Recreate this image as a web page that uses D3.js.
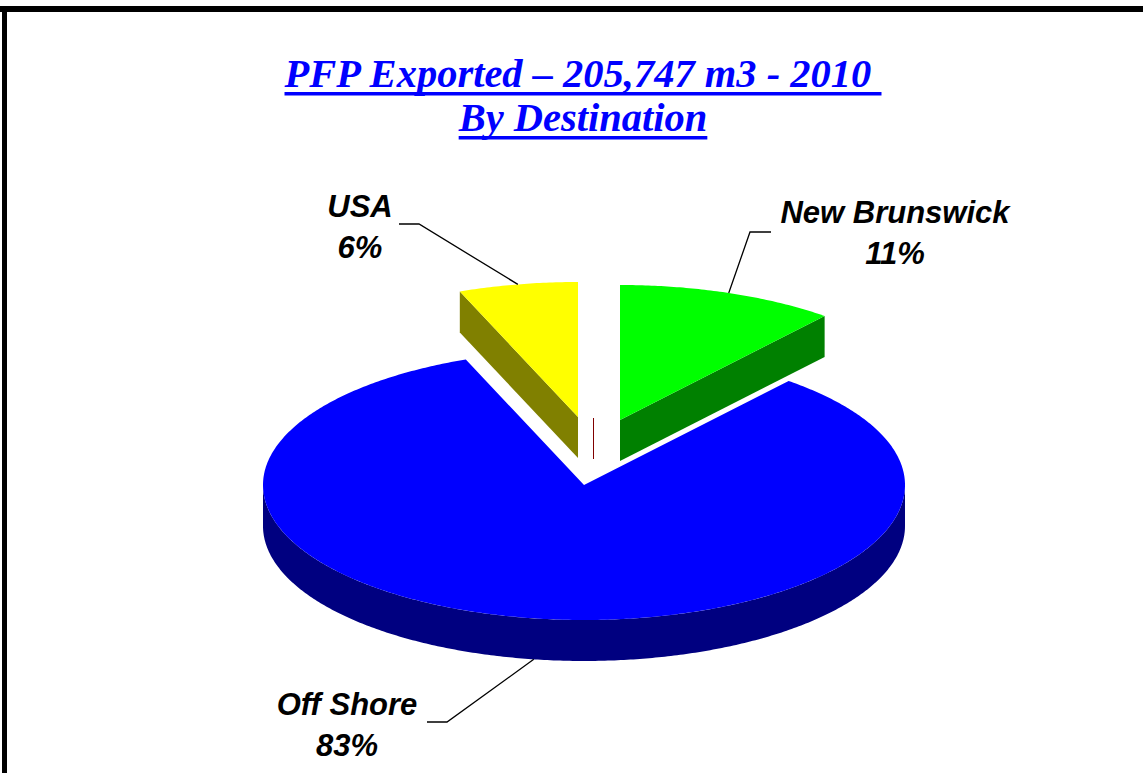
<!DOCTYPE html>
<html>
<head>
<meta charset="utf-8">
<script src="https://cdn.jsdelivr.net/npm/d3@7"></script>
<style>
  body { margin: 0; background: #fff; }
  svg { display: block; }
</style>
</head>
<body>
<div class="chart"></div>
<script>
// chart data
let categories = ["New Brunswick", "Off Shore", "USA"];
let percents = [11, 83, 6];
let title_lines = ["PFP Exported \u2013 205,747 m3 - 2010 ", "By Destination"];

// colours of the top faces and the side walls
let top_colors = ["#00ff00", "#0000ff", "#ffff00"];
let side_colors = ["#008000", "#000080", "#808000"];

var width = 1143, height = 773;
var pie_center = {x: 584, y: 485};
var rx = 321, ry = 135, depth = 41;
// how far each slice is pulled out, in pixels
var explode = [{dx: 36, dy: -65}, {dx: 0, dy: 0}, {dx: -6, dy: -68}];
// label block centre (x, first baseline) and the elbow of the leader line
var label_pos = [
  {x: 895, y: 223, hx: 771, ex: 750, ey: 232},
  {x: 347, y: 715, hx: 427, ex: 447, ey: 722},
  {x: 360, y: 217, hx: 399, ex: 419, ey: 224}
];

var svg = d3.select(".chart")
  .append("svg")
  .attr("width", width)
  .attr("height", height);

svg.append("rect").attr("width", width).attr("height", height).attr("fill", "#fff");

// frame (cut off at right and bottom in the original)
svg.append("rect").attr("x", 0).attr("y", 6).attr("width", width).attr("height", 6).attr("fill", "#000");
svg.append("rect").attr("x", 2).attr("y", 6).attr("width", 5).attr("height", height).attr("fill", "#000");

// title, underlined
var title_x = 583;
var title_y = [87, 131];
var title = svg.append("g").attr("class", "title");
title_lines.forEach(function(line, i) {
  var t = title.append("text")
    .attr("x", title_x)
    .attr("y", title_y[i])
    .attr("text-anchor", "middle")
    .style("white-space", "pre")
    .style("font-family", "'Liberation Serif', 'Times New Roman', serif")
    .style("font-weight", "bold")
    .style("font-style", "italic")
    .style("font-size", "40.5px")
    .attr("fill", "#0000ff")
    .text(line);
  var len = t.node().getComputedTextLength();
  title.append("rect")
    .attr("x", title_x - len / 2)
    .attr("y", title_y[i] + 5)
    .attr("width", len)
    .attr("height", 3.5)
    .attr("fill", "#0000ff");
});

// pie angles (clockwise from 12 o'clock)
var arcs = d3.pie().sort(null).value(function(d) { return d; })(percents);

function pt(c, a) {
  return [c.x + rx * Math.sin(a), c.y - ry * Math.cos(a)];
}
function arcPoints(c, a0, a1) {
  var n = Math.max(2, Math.ceil(Math.abs(a1 - a0) / 0.01));
  var s = d3.scaleLinear().domain([0, n]).range([a0, a1]);
  return d3.range(n + 1).map(function(k) { return pt(c, s(k)); });
}
function down(p) { return [p[0], p[1] + depth]; }
var line = d3.line();

var order = d3.range(arcs.length).sort(function(a, b) {
  var ma = (arcs[a].startAngle + arcs[a].endAngle) / 2;
  var mb = (arcs[b].startAngle + arcs[b].endAngle) / 2;
  return Math.cos(mb) - Math.cos(ma);
});

var pie = svg.append("g").attr("class", "pie");

order.forEach(function(i) {
  var d = arcs[i];
  var c = {x: pie_center.x + explode[i].dx, y: pie_center.y + explode[i].dy};
  var a0 = d.startAngle, a1 = d.endAngle;
  var g = pie.append("g");
  var apex = [c.x, c.y];

  // radial walls
  [[a0, a0 - Math.PI / 2], [a1, a1 + Math.PI / 2]].forEach(function(w) {
    if (Math.cos(w[1]) < -1e-6) {
      var p = pt(c, w[0]);
      g.append("path")
        .attr("d", line([apex, p, down(p), down(apex)]) + "Z")
        .attr("fill", side_colors[i]);
    }
  });

  // outer wall, front half only
  var f0 = Math.max(a0, Math.PI / 2), f1 = Math.min(a1, 3 * Math.PI / 2);
  if (f1 > f0) {
    var topArc = arcPoints(c, f0, f1);
    var pts = topArc.concat(topArc.slice().reverse().map(down));
    g.append("path")
      .attr("d", line(pts) + "Z")
      .attr("fill", side_colors[i]);
  }

  // top face
  g.append("path")
    .attr("d", line([apex].concat(arcPoints(c, a0, a1))) + "Z")
    .attr("fill", top_colors[i]);
});

// little edge left visible at the hub
svg.append("line")
  .attr("x1", pie_center.x + 9.5).attr("x2", pie_center.x + 9.5)
  .attr("y1", pie_center.y - 67).attr("y2", pie_center.y - 67 + depth)
  .attr("stroke", "#800000").attr("stroke-width", 1);

// labels with leader lines
var labels = svg.append("g").attr("class", "labels");
arcs.forEach(function(d, i) {
  var c = {x: pie_center.x + explode[i].dx, y: pie_center.y + explode[i].dy};
  var mid = (d.startAngle + d.endAngle) / 2;
  var anchor = pt(c, mid);
  if (Math.cos(mid) < 0) anchor = down(anchor);
  var L = label_pos[i];

  labels.append("path")
    .attr("d", line([[L.hx, L.ey], [L.ex, L.ey], anchor]))
    .attr("fill", "none")
    .attr("stroke", "#000")
    .attr("stroke-width", 1.3);

  var t = labels.append("text")
    .attr("text-anchor", "middle")
    .style("font-family", "'Liberation Sans', Arial, sans-serif")
    .style("font-weight", "bold")
    .style("font-style", "italic")
    .style("font-size", "31px")
    .attr("fill", "#000");
  t.append("tspan").attr("x", L.x).attr("y", L.y).text(categories[i]);
  t.append("tspan").attr("x", L.x).attr("y", L.y + 41).text(d.data + "%");
});
</script>
</body>
</html>
